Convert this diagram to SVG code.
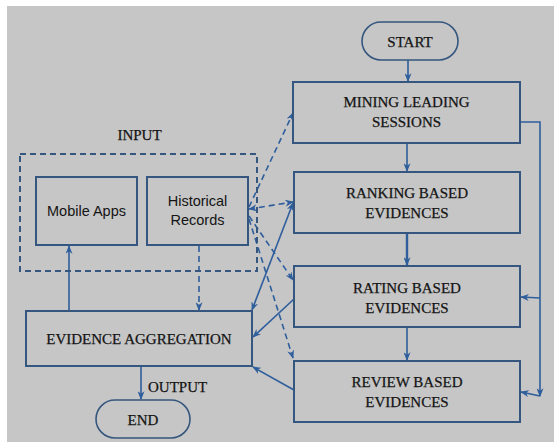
<svg xmlns="http://www.w3.org/2000/svg" width="554" height="443" viewBox="0 0 554 443">
<defs>
<style>
.bg{fill:#c6c6c6}
.box{fill:none;stroke:#35567e;stroke-width:2}
.pill{fill:none;stroke:#35567e;stroke-width:1.6}
.dbox{fill:none;stroke:#35567e;stroke-width:2;stroke-dasharray:6,4}
.t{font-family:"Liberation Serif","Times New Roman",serif;font-size:15px;fill:#141414;stroke:#141414;stroke-width:0.25;text-anchor:middle}
.s{font-family:"Liberation Sans",Arial,sans-serif;font-size:14.5px;fill:#141414;text-anchor:middle}
.c{fill:none;stroke:#2e5e9c;stroke-width:1.6}
.d{fill:none;stroke:#2e5e9c;stroke-width:1.6;stroke-dasharray:6,4}
</style>
<marker id="ah" viewBox="0 0 10 8" refX="9" refY="4" markerWidth="9" markerHeight="7" markerUnits="userSpaceOnUse" orient="auto-start-reverse">
<path d="M0,0 L10,4 L0,8 L3,4 Z" fill="#2e5e9c"/>
</marker>
</defs>
<rect class="bg" x="7" y="6" width="547" height="436"/>

<g id="connectors">
<path class="c" d="M408,60 V81" marker-end="url(#ah)"/>
<path class="c" d="M407,143 V171" marker-end="url(#ah)"/>
<path class="c" d="M407,233 V265" style="stroke-width:2.4" marker-end="url(#ah)"/>
<path class="c" d="M407,327 V360" marker-end="url(#ah)"/>
<path class="c" d="M520,122 H540 V396" marker-end="url(#ah)"/>
<path class="c" d="M540,298 L521,297" marker-end="url(#ah)"/>
<path class="c" d="M540,396 L521,392" marker-end="url(#ah)"/>
<path class="c" d="M69,311 V246" marker-end="url(#ah)"/>
<path class="d" d="M199,246 V310" marker-end="url(#ah)"/>
<path class="c" d="M141,366 V399" marker-end="url(#ah)"/>
<path class="d" d="M249,207 L293,113" marker-end="url(#ah)"/>
<path class="d" d="M249,209 L293,202" marker-start="url(#ah)" marker-end="url(#ah)"/>
<path class="c" d="M252,310 L293,203" marker-start="url(#ah)" marker-end="url(#ah)"/>
<path class="d" d="M249,216 L293,280" marker-end="url(#ah)"/>
<path class="d" d="M249,219 L293,358" marker-end="url(#ah)"/>
<path class="c" d="M294,299 L253,337" marker-end="url(#ah)"/>
<path class="c" d="M294,390 L253,367" marker-end="url(#ah)"/>
</g>

<g id="start"><rect class="pill" x="362" y="22" width="96" height="38" rx="19"/><text class="t" x="410" y="47">START</text></g>
<g id="mining"><rect class="box" x="293" y="82" width="227" height="61"/><text class="t" x="406.5" y="107">MINING LEADING</text><text class="t" x="406.5" y="127">SESSIONS</text></g>
<g id="ranking"><rect class="box" x="294" y="172" width="226" height="61"/><text class="t" x="407" y="198">RANKING BASED</text><text class="t" x="407" y="218">EVIDENCES</text></g>
<g id="rating"><rect class="box" x="294" y="266" width="226" height="61"/><text class="t" x="407" y="293">RATING BASED</text><text class="t" x="407" y="313">EVIDENCES</text></g>
<g id="review"><rect class="box" x="294" y="361" width="226" height="61"/><text class="t" x="407" y="387">REVIEW BASED</text><text class="t" x="407" y="407">EVIDENCES</text></g>
<g id="input"><rect class="dbox" x="20" y="154" width="237" height="117"/><text class="t" x="139.5" y="140">INPUT</text></g>
<g id="mobile"><rect class="box" x="36" y="177" width="101" height="68"/><text class="s" x="86.5" y="216">Mobile Apps</text></g>
<g id="historical"><rect class="box" x="147" y="177" width="101" height="68"/><text class="s" x="197.5" y="206">Historical</text><text class="s" x="197.5" y="225">Records</text></g>
<g id="aggregation"><rect class="box" x="26" y="311" width="226" height="55"/><text class="t" x="139" y="344">EVIDENCE AGGREGATION</text></g>
<g id="output"><text class="t" x="148" y="392" style="text-anchor:start">OUTPUT</text></g>
<g id="end"><rect class="pill" x="96" y="400" width="94" height="38" rx="19"/><text class="t" x="143" y="425">END</text></g>
</svg>
